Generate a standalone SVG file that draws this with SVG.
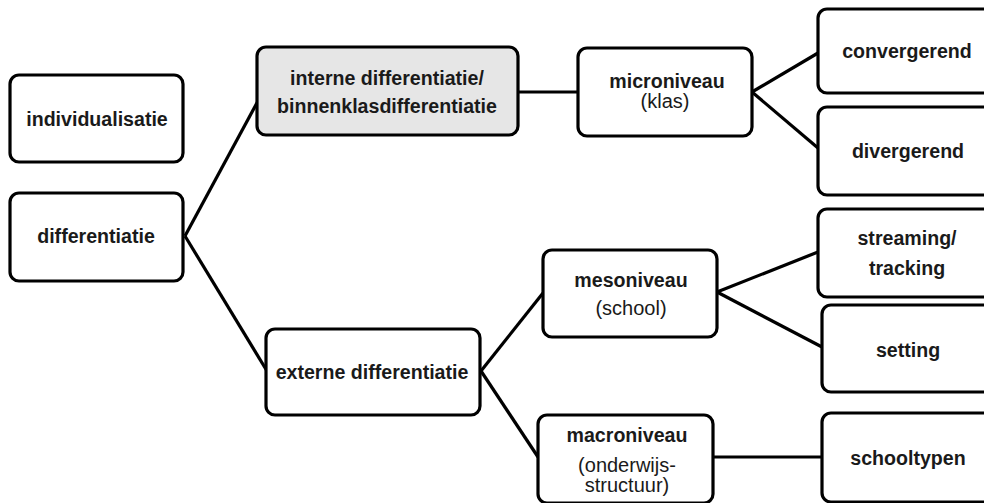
<svg xmlns="http://www.w3.org/2000/svg" width="984" height="503" viewBox="0 0 984 503">
<style>
.box{fill:#fff;stroke:#000;stroke-width:3.2}
.grey{fill:#e6e6e6}
.b{font-family:"Liberation Sans",Arial,sans-serif;font-weight:bold;font-size:19.6px;fill:#1a1a1a;text-anchor:middle}
.r{font-family:"Liberation Sans",Arial,sans-serif;font-size:20px;fill:#1a1a1a;text-anchor:middle}
.c{fill:none;stroke:#000;stroke-width:3.2}
</style>
<rect width="984" height="503" fill="#fff"/>
<g id="connectors">
<line class="c" x1="185" y1="236" x2="258" y2="101"/>
<line class="c" x1="185" y1="236" x2="267" y2="371"/>
<line class="c" x1="518" y1="92" x2="578" y2="92"/>
<line class="c" x1="752" y1="92" x2="818" y2="53"/>
<line class="c" x1="752" y1="92" x2="818" y2="148"/>
<line class="c" x1="481" y1="371" x2="543" y2="293"/>
<line class="c" x1="481" y1="371" x2="538" y2="457"/>
<line class="c" x1="717" y1="292" x2="818" y2="252"/>
<line class="c" x1="717" y1="292" x2="822" y2="347"/>
<line class="c" x1="713" y1="457" x2="822" y2="457"/>
</g>
<g id="individualisatie">
<rect class="box" x="10" y="75" width="173" height="87" rx="9"/>
<text class="b" x="97" y="126">individualisatie</text>
</g>
<g id="differentiatie">
<rect class="box" x="10" y="193" width="173" height="88" rx="9"/>
<text class="b" x="96" y="243">differentiatie</text>
</g>
<g id="interne">
<rect class="box grey" x="257" y="47" width="261" height="88" rx="9"/>
<text class="b" x="387" y="85">interne differentiatie/</text>
<text class="b" x="387" y="113">binnenklasdifferentiatie</text>
</g>
<g id="microniveau">
<rect class="box" x="578" y="48" width="174" height="88" rx="9"/>
<text class="b" x="667" y="88">microniveau</text>
<text class="r" x="665" y="108">(klas)</text>
</g>
<g id="convergerend">
<rect class="box" x="818" y="9" width="200" height="84" rx="9"/>
<text class="b" x="907" y="58">convergerend</text>
</g>
<g id="divergerend">
<rect class="box" x="818" y="107" width="200" height="88" rx="9"/>
<text class="b" x="908" y="158">divergerend</text>
</g>
<g id="externe">
<rect class="box" x="266" y="329" width="214" height="86" rx="9"/>
<text class="b" x="372" y="379">externe differentiatie</text>
</g>
<g id="mesoniveau">
<rect class="box" x="543" y="250" width="174" height="87" rx="9"/>
<text class="b" x="631" y="287">mesoniveau</text>
<text class="r" x="631" y="315">(school)</text>
</g>
<g id="streaming">
<rect class="box" x="818" y="209" width="200" height="88" rx="9"/>
<text class="b" x="907" y="245">streaming/</text>
<text class="b" x="907" y="275">tracking</text>
</g>
<g id="setting">
<rect class="box" x="822" y="305" width="200" height="87" rx="9"/>
<text class="b" x="908" y="357">setting</text>
</g>
<g id="macroniveau">
<rect class="box" x="538" y="415" width="175" height="88" rx="9"/>
<text class="b" x="627" y="442">macroniveau</text>
<text class="r" x="627" y="472">(onderwijs-</text>
<text class="r" x="627" y="492">structuur)</text>
</g>
<g id="schooltypen">
<rect class="box" x="822" y="413" width="200" height="89" rx="9"/>
<text class="b" x="908" y="465">schooltypen</text>
</g>
</svg>
